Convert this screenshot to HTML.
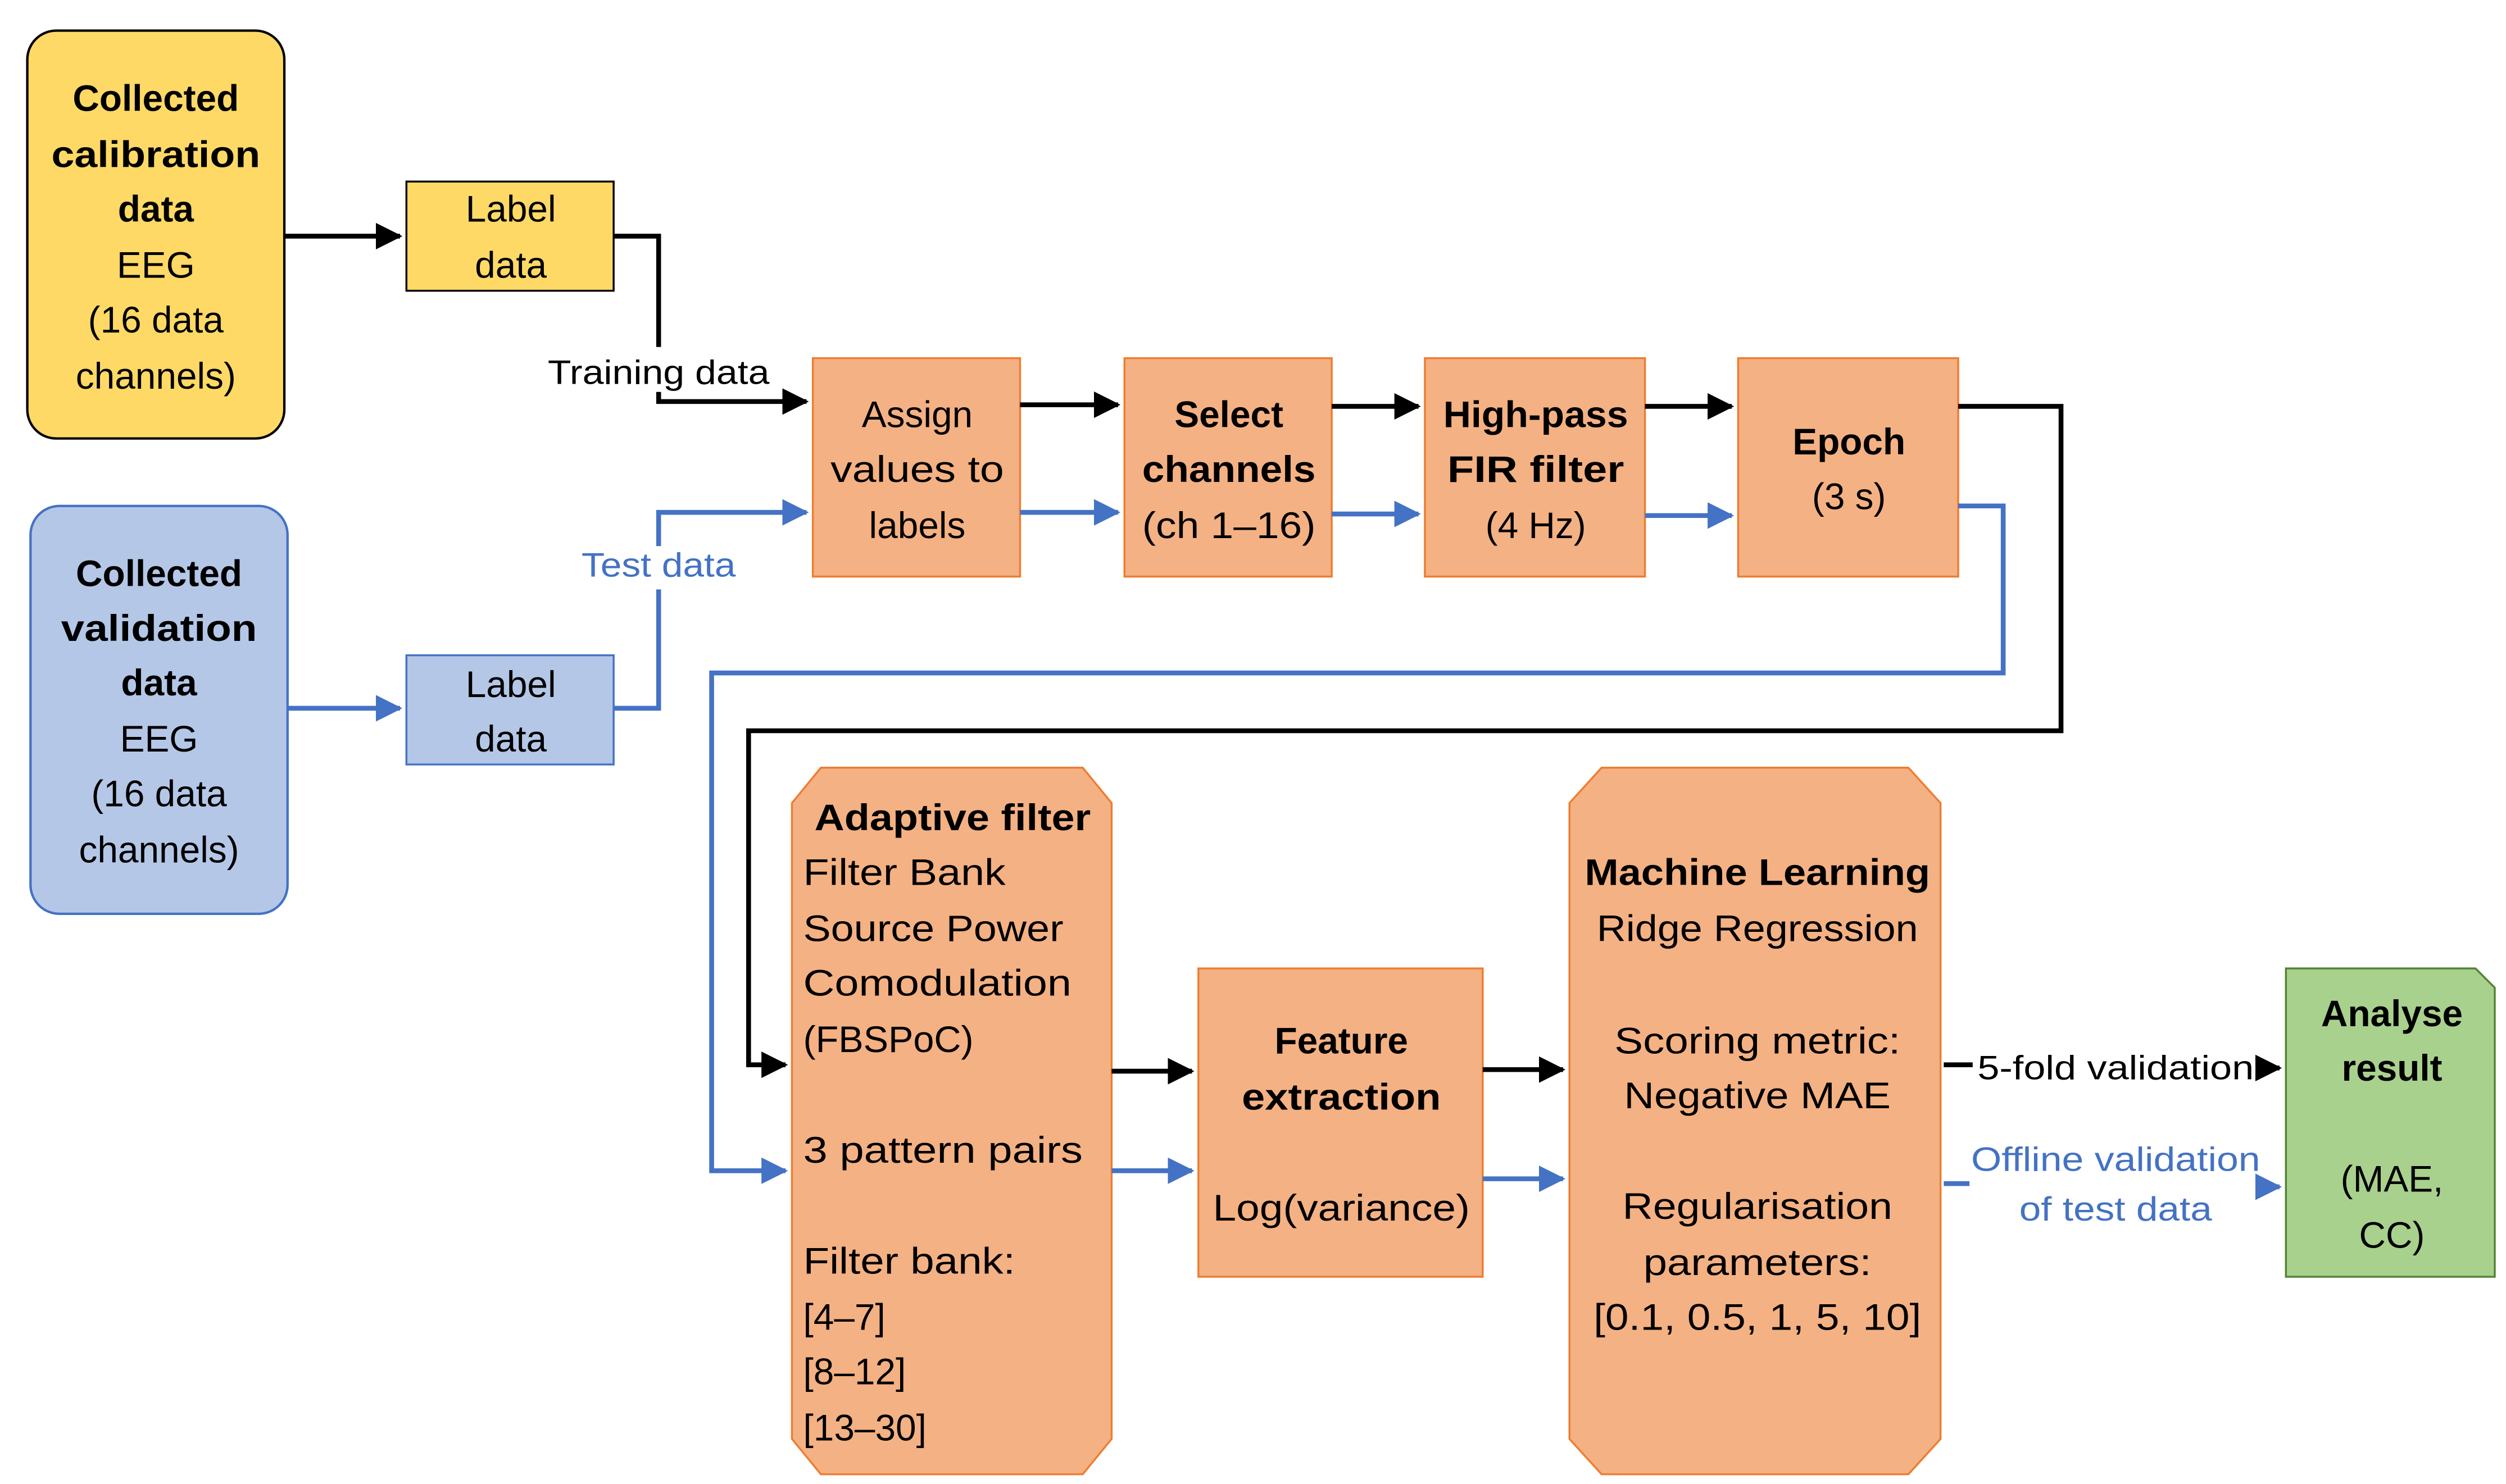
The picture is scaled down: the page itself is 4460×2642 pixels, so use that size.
<!DOCTYPE html>
<html><head><meta charset="utf-8"><style>
html,body{margin:0;padding:0;background:#fff;}
svg{display:block;}
text{font-family:"Liberation Sans",sans-serif;font-size:23px;fill:#000;}
.b{font-weight:bold;}
.m{text-anchor:middle;}
.bl{fill:#4472C4;}
.sm{font-size:21px;}
</style></head><body>
<svg width="4460" height="2642" viewBox="0 0 1560 924" xmlns="http://www.w3.org/2000/svg">
<defs>
<marker id="ak" markerWidth="5.5" markerHeight="5.5" refX="5" refY="2.75" orient="auto" markerUnits="strokeWidth"><path d="M0,0 L5.5,2.75 L0,5.5 z" fill="#000"/></marker>
<marker id="ab" markerWidth="5.5" markerHeight="5.5" refX="5" refY="2.75" orient="auto" markerUnits="strokeWidth"><path d="M0,0 L5.5,2.75 L0,5.5 z" fill="#4472C4"/></marker>
</defs>
<rect x="17" y="19" width="160" height="254" rx="18" fill="#FFD966" stroke="#000" stroke-width="1.5"/>
<rect x="253" y="113" width="129" height="68" fill="#FFD966" stroke="#000" stroke-width="1.2"/>
<rect x="19" y="315" width="160" height="254" rx="18" fill="#B4C7E7" stroke="#4472C4" stroke-width="1.5"/>
<rect x="253" y="408" width="129" height="68" fill="#B4C7E7" stroke="#4472C4" stroke-width="1.2"/>
<g fill="#F4B183" stroke="#ED7D31" stroke-width="1.2">
<rect x="506" y="223" width="129" height="136"/>
<rect x="700" y="223" width="129" height="136"/>
<rect x="887" y="223" width="137" height="136"/>
<rect x="1082" y="223" width="137" height="136"/>
<path d="M511,478 L674,478 L692,500 L692,896 L674,918 L511,918 L493,896 L493,500 z"/>
<rect x="746" y="603" width="177" height="192"/>
<path d="M997,478 L1188,478 L1208,500 L1208,896 L1188,918 L997,918 L977,896 L977,500 z"/>
</g>
<path d="M1423,603 L1541,603 L1553,615 L1553,795 L1423,795 z" fill="#A9D18E" stroke="#548235" stroke-width="1.2"/>

<g fill="none" stroke="#000" stroke-width="3">
<path d="M177,147 L249,147" marker-end="url(#ak)"/>
<path d="M382,147 L410,147 L410,216"/>
<path d="M410,244 L410,250 L502,250" marker-end="url(#ak)"/>
<path d="M635,252 L696,252" marker-end="url(#ak)"/>
<path d="M829,253 L883,253" marker-end="url(#ak)"/>
<path d="M1024,253 L1078,253" marker-end="url(#ak)"/>
<path d="M1219,253 L1283,253 L1283,455 L466,455 L466,663 L489,663" marker-end="url(#ak)"/>
<path d="M692,667 L742,667" marker-end="url(#ak)"/>
<path d="M923,666 L973,666" marker-end="url(#ak)"/>
<path d="M1210,663 L1228,663"/>
<path d="M1404,665 L1419,665" marker-end="url(#ak)"/>
</g>
<g fill="none" stroke="#4472C4" stroke-width="3">
<path d="M179,441 L249,441" marker-end="url(#ab)"/>
<path d="M382,441 L410,441 L410,367"/>
<path d="M410,340 L410,319 L502,319" marker-end="url(#ab)"/>
<path d="M635,319 L696,319" marker-end="url(#ab)"/>
<path d="M829,320 L883,320" marker-end="url(#ab)"/>
<path d="M1024,321 L1078,321" marker-end="url(#ab)"/>
<path d="M1219,315 L1247,315 L1247,419 L443,419 L443,729 L489,729" marker-end="url(#ab)"/>
<path d="M692,729 L742,729" marker-end="url(#ab)"/>
<path d="M923,734 L973,734" marker-end="url(#ab)"/>
<path d="M1210,737 L1226,737"/>
<path d="M1408,739 L1419,739" marker-end="url(#ab)"/>
</g>

<text class="b m" x="97" y="69">Collected</text>
<text class="b m" x="97" y="104" textLength="130" lengthAdjust="spacingAndGlyphs">calibration</text>
<text class="b m" x="97" y="138">data</text>
<text class="m" x="97" y="173">EEG</text>
<text class="m" x="97" y="207">(16 data</text>
<text class="m" x="97" y="242">channels)</text>
<text class="m" x="318" y="138">Label</text>
<text class="m" x="318" y="173">data</text>

<text class="b m" x="99" y="365">Collected</text>
<text class="b m" x="99" y="399" textLength="122" lengthAdjust="spacingAndGlyphs">validation</text>
<text class="b m" x="99" y="433">data</text>
<text class="m" x="99" y="468">EEG</text>
<text class="m" x="99" y="502">(16 data</text>
<text class="m" x="99" y="537">channels)</text>
<text class="m" x="318" y="434">Label</text>
<text class="m" x="318" y="468">data</text>

<text class="m sm" x="410" y="239" textLength="138" lengthAdjust="spacingAndGlyphs">Training data</text>
<text class="m sm bl" x="410" y="359" textLength="96" lengthAdjust="spacingAndGlyphs">Test data</text>

<text class="m" x="571" y="266">Assign</text>
<text class="m" x="571" y="300" textLength="108" lengthAdjust="spacingAndGlyphs">values to</text>
<text class="m" x="571" y="335">labels</text>

<text class="b m" x="765" y="266">Select</text>
<text class="b m" x="765" y="300" textLength="108" lengthAdjust="spacingAndGlyphs">channels</text>
<text class="m" x="765" y="335" textLength="108" lengthAdjust="spacingAndGlyphs">(ch 1–16)</text>

<text class="b m" x="956" y="266" textLength="115" lengthAdjust="spacingAndGlyphs">High-pass</text>
<text class="b m" x="956" y="300" textLength="110" lengthAdjust="spacingAndGlyphs">FIR filter</text>
<text class="m" x="956" y="335">(4 Hz)</text>

<text class="b m" x="1151" y="283">Epoch</text>
<text class="m" x="1151" y="317">(3 s)</text>

<text class="b m" x="593" y="517" textLength="172" lengthAdjust="spacingAndGlyphs">Adaptive filter</text>
<text x="500" y="551" textLength="126" lengthAdjust="spacingAndGlyphs">Filter Bank</text>
<text x="500" y="586" textLength="162" lengthAdjust="spacingAndGlyphs">Source Power</text>
<text x="500" y="620" textLength="167" lengthAdjust="spacingAndGlyphs">Comodulation</text>
<text x="500" y="655" textLength="106" lengthAdjust="spacingAndGlyphs">(FBSPoC)</text>
<text x="500" y="724" textLength="174" lengthAdjust="spacingAndGlyphs">3 pattern pairs</text>
<text x="500" y="793" textLength="132" lengthAdjust="spacingAndGlyphs">Filter bank:</text>
<text x="500" y="828">[4–7]</text>
<text x="500" y="862">[8–12]</text>
<text x="500" y="897">[13–30]</text>

<text class="b m" x="835" y="656">Feature</text>
<text class="b m" x="835" y="691" textLength="124" lengthAdjust="spacingAndGlyphs">extraction</text>
<text class="m" x="835" y="760" textLength="160" lengthAdjust="spacingAndGlyphs">Log(variance)</text>

<text class="b m" x="1094" y="551" textLength="215" lengthAdjust="spacingAndGlyphs">Machine Learning</text>
<text class="m" x="1094" y="586" textLength="200" lengthAdjust="spacingAndGlyphs">Ridge Regression</text>
<text class="m" x="1094" y="656" textLength="178" lengthAdjust="spacingAndGlyphs">Scoring metric:</text>
<text class="m" x="1094" y="690" textLength="166" lengthAdjust="spacingAndGlyphs">Negative MAE</text>
<text class="m" x="1094" y="759" textLength="168" lengthAdjust="spacingAndGlyphs">Regularisation</text>
<text class="m" x="1094" y="794" textLength="142" lengthAdjust="spacingAndGlyphs">parameters:</text>
<text class="m" x="1094" y="828" textLength="204" lengthAdjust="spacingAndGlyphs">[0.1, 0.5, 1, 5, 10]</text>

<text class="m sm" x="1317" y="672" textLength="172" lengthAdjust="spacingAndGlyphs">5-fold validation</text>
<text class="m sm bl" x="1317" y="729" textLength="180" lengthAdjust="spacingAndGlyphs">Offline validation</text>
<text class="m sm bl" x="1317" y="760" textLength="120" lengthAdjust="spacingAndGlyphs">of test data</text>

<text class="b m" x="1489" y="639">Analyse</text>
<text class="b m" x="1489" y="673">result</text>
<text class="m" x="1489" y="742">(MAE,</text>
<text class="m" x="1489" y="777">CC)</text>
</svg>
</body></html>
